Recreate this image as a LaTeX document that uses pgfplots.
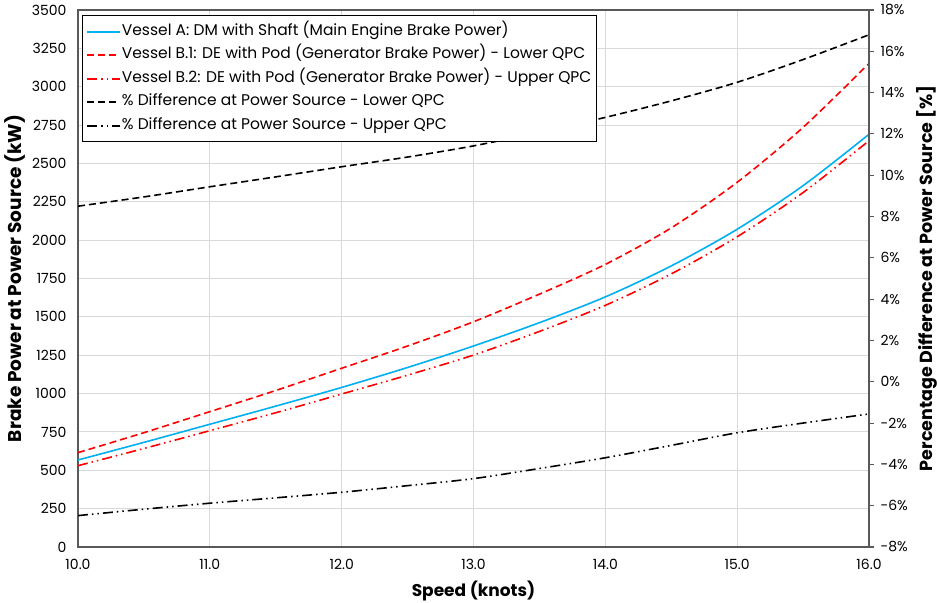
\documentclass[border=0pt]{standalone}
\usepackage{fontspec}
\setmainfont{Poppins}
\usepackage{pgfplots}
\usepackage{pgfplotstable}
\pgfplotsset{compat=1.18}
\definecolor{cyanA}{HTML}{00B0F0}
\definecolor{gridc}{HTML}{D9D9D9}
\definecolor{axc}{HTML}{595959}

\pgfplotstableread{
x     A     B1    B2
10.0  567   615   530
10.5  682   745   642
11.0  800   882   758
11.5  918   1020  875
12.0  1040  1165  997
12.5  1170  1310  1120
13.0  1310  1468  1251
13.5  1462  1648  1405
14.0  1630  1842  1575
14.5  1832  2080  1780
15.0  2071  2377  2022
15.5  2355  2735  2310
16.0  2690  3152  2648
}\powertab

\pgfplotstableread{
x     L      U
10.0  8.50   -6.48
10.5  8.95   -6.17
11.0  9.44   -5.88
11.5  9.92   -5.62
12.0  10.41  -5.35
12.5  10.88  -5.03
13.0  11.42  -4.69
13.5  12.08  -4.20
14.0  12.80  -3.68
14.5  13.60  -3.08
15.0  14.50  -2.47
15.5  15.60  -2.00
16.0  16.80  -1.56
}\pcttab

\begin{document}
\begin{tikzpicture}[font=\fontsize{14}{16}\selectfont]
\begin{axis}[name=main, scale only axis, width=791pt, height=537pt,
  xmin=10, xmax=16, ymin=0, ymax=3500,
  xtick={10,11,...,16}, ytick distance=250,
  grid=major, grid style={gridc, line width=1.1pt},
  axis line style={axc, line width=1.1pt},
  major tick length=0pt,
  /pgf/number format/assume math mode=true,
  xticklabel style={/pgf/number format/.cd, fixed, fixed zerofill, precision=1, /tikz/.cd, yshift=-9pt},
  yticklabel style={/pgf/number format/.cd, 1000 sep={}, /tikz/.cd, xshift=-8pt},
  xlabel={\bfseries Speed (knots)},
  ylabel={\bfseries Brake Power at Power Source (kW)},
  xlabel style={font=\fontsize{17}{19}\selectfont, at={(axis description cs:0.5,-0.082)}, anchor=center},
  ylabel style={font=\fontsize{18.5}{20}\selectfont, at={(axis description cs:-0.0797,0.5)}, anchor=center},
]
\addplot[cyanA, line width=1.6pt, smooth] table[x=x,y=A]{\powertab};
\addplot[red, line width=1.6pt, smooth, dash pattern=on 7pt off 4pt] table[x=x,y=B1]{\powertab};
\addplot[red, line width=1.6pt, smooth, dash pattern=on 10pt off 4pt on 1.5pt off 4pt on 1.5pt off 4pt] table[x=x,y=B2]{\powertab};
\end{axis}
\begin{axis}[scale only axis, width=791pt, height=537pt,
  xmin=10, xmax=16, ymin=-8, ymax=18,
  ytick distance=2,
  axis y line*=right, axis x line=none,
  axis line style={axc, line width=1.1pt},
  tick align=outside, major tick length=5pt,
  ytick style={axc, line width=1.1pt},
  /pgf/number format/assume math mode=true,
  yticklabel={\pgfmathprintnumber{\tick}\%},
  yticklabel style={xshift=3pt},
  ylabel={\bfseries Percentage Difference at Power Source [\%]},
  ylabel style={font=\fontsize{17.5}{19}\selectfont, at={(axis description cs:1.0733,0.5)}, anchor=center},
  legend style={at={(axis description cs:0.005,0.9907)}, anchor=north west,
    draw=black, line width=0.8pt, fill=white, row sep=7pt,
    font=\fontsize{15.5}{17}\selectfont,
    nodes={inner sep=1pt, text height=11pt, text depth=3.5pt},
    inner xsep=4pt, inner ysep=8pt},
  legend cell align=left,
  legend image code/.code={\draw[#1, line width=1.8pt] (0cm,0cm) -- (1.15cm,0cm);},
]
\addlegendimage{cyanA, solid}
\addlegendentry{Vessel A: DM with Shaft (Main Engine Brake Power)}
\addlegendimage{red, dash pattern=on 7pt off 4pt}
\addlegendentry{Vessel B.1: DE with Pod (Generator Brake Power) - Lower QPC}
\addlegendimage{red, dash pattern=on 10pt off 4pt on 1.5pt off 4pt on 1.5pt off 4pt}
\addlegendentry{Vessel B.2: DE with Pod (Generator Brake Power) - Upper QPC}
\addplot[black, line width=1.6pt, smooth, dash pattern=on 7pt off 4pt] table[x=x,y=L]{\pcttab};
\addlegendentry{\% Difference at Power Source - Lower QPC}
\addplot[black, line width=1.6pt, smooth, dash pattern=on 10pt off 4pt on 1.5pt off 4pt on 1.5pt off 4pt] table[x=x,y=U]{\pcttab};
\addlegendentry{\% Difference at Power Source - Upper QPC}
\end{axis}
\pgfresetboundingbox
\path ([xshift=-78pt,yshift=-56pt]main.south west) rectangle ([xshift=68pt,yshift=10pt]main.north east);
\end{tikzpicture}
\end{document}
